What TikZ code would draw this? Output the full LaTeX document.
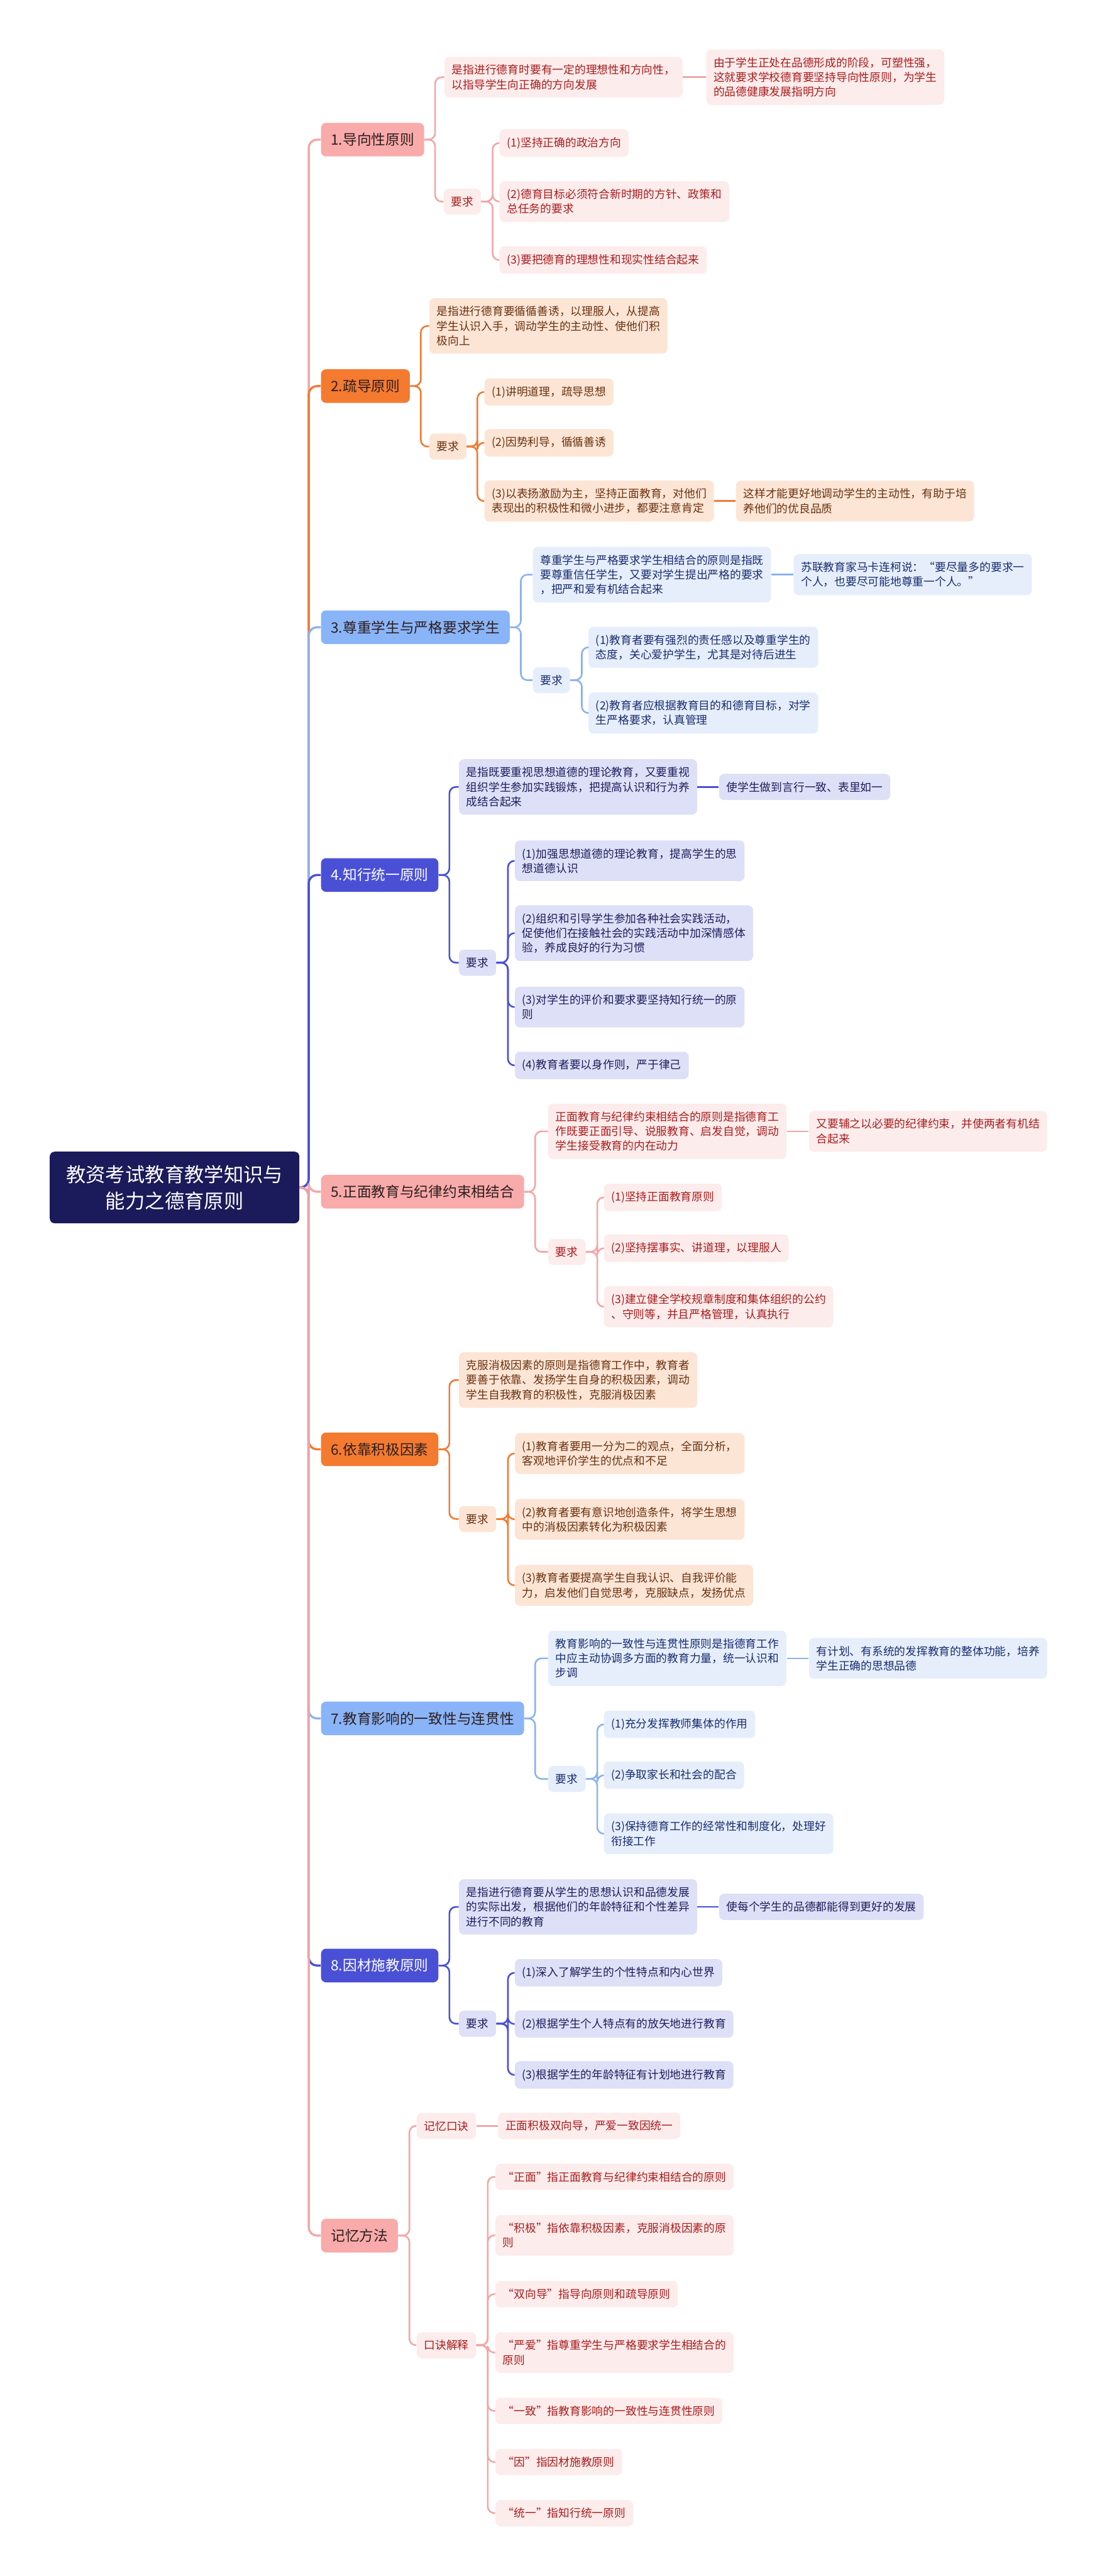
\documentclass[tikz,border=0pt]{standalone}
\usepackage{fontspec}
\setmainfont{Noto Sans CJK SC}
\usepackage{tikz}
\usetikzlibrary{positioning}
\definecolor{rootnavy}{RGB}{27,26,90}
\definecolor{topicInk}{RGB}{45,30,30}
\definecolor{pkFill}{RGB}{249,170,170}
\definecolor{pkLeaf}{RGB}{253,236,236}
\definecolor{pkLine}{RGB}{244,166,166}
\definecolor{pkText}{RGB}{168,28,28}
\definecolor{orFill}{RGB}{244,122,48}
\definecolor{orLeaf}{RGB}{253,229,214}
\definecolor{orLine}{RGB}{240,122,50}
\definecolor{orText}{RGB}{105,50,15}
\definecolor{lbFill}{RGB}{138,180,248}
\definecolor{lbLeaf}{RGB}{230,238,252}
\definecolor{lbLine}{RGB}{140,178,240}
\definecolor{lbText}{RGB}{25,45,110}
\definecolor{inFill}{RGB}{74,80,214}
\definecolor{inLeaf}{RGB}{222,224,248}
\definecolor{inLine}{RGB}{74,80,214}
\definecolor{inText}{RGB}{30,30,90}

\begin{document}
\begin{tikzpicture}[x=1pt,y=-1pt,
  rootbox/.style={fill=rootnavy,text=white,rounded corners=3pt,align=center,
                  font=\fontsize{12}{16}\selectfont,inner xsep=10pt,inner ysep=8.2pt},
  topicbox/.style={rounded corners=3pt,anchor=west,font=\fontsize{8.7}{11}\selectfont,
                   inner xsep=6pt,inner ysep=6.2pt},
  leafbox/.style={rounded corners=3pt,anchor=west,align=left,
                  font=\fontsize{6.8}{8.9}\selectfont,inner xsep=4.5pt,inner ysep=4.8pt},
  pkTopic/.style={topicbox,fill=pkFill,text=topicInk},
  orTopic/.style={topicbox,fill=orFill,text=topicInk},
  lbTopic/.style={topicbox,fill=lbFill,text=topicInk},
  inTopic/.style={topicbox,fill=inFill,text=white},
  pkNode/.style={leafbox,fill=pkLeaf,text=pkText},
  orNode/.style={leafbox,fill=orLeaf,text=orText},
  lbNode/.style={leafbox,fill=lbLeaf,text=lbText},
  inNode/.style={leafbox,fill=inLeaf,text=inText},
  link/.style={rounded corners=4pt,line width=1pt},
  spine/.style={rounded corners=5pt,line width=1.3pt}
]
  \useasboundingbox (0,0) rectangle (671,1568);

  \node[rootbox] (root) at (106.3,722.8) {教资考试教育教学知识与\\能力之德育原则};

  \node[pkTopic] (t1) at (195.3,85) {1.导向性原则};
  \node[orTopic] (t2) at (195.3,235) {2.疏导原则};
  \node[lbTopic] (t3) at (195.3,381.8) {3.尊重学生与严格要求学生};
  \node[inTopic] (t4) at (195.3,532.6) {4.知行统一原则};
  \node[pkTopic] (t5) at (195.3,725.4) {5.正面教育与纪律约束相结合};
  \node[orTopic] (t6) at (195.3,882.2) {6.依靠积极因素};
  \node[lbTopic] (t7) at (195.3,1046) {7.教育影响的一致性与连贯性};
  \node[inTopic] (t8) at (195.3,1196.4) {8.因材施教原则};
  \node[pkTopic] (tm) at (195.3,1360.8) {记忆方法};

  \draw[spine,pkLine] (root.east) -- ++(5.5,0) |- (t1.west);
  \draw[spine,orLine] (root.east) -- ++(5.5,0) |- (t2.west);
  \draw[spine,lbLine] (root.east) -- ++(5.5,0) |- (t3.west);
  \draw[spine,inLine] (root.east) -- ++(5.5,0) |- (t4.west);
  \draw[spine,pkLine] (root.east) -- ++(5.5,0) |- (t5.west);
  \draw[spine,orLine] (root.east) -- ++(5.5,0) |- (t6.west);
  \draw[spine,lbLine] (root.east) -- ++(5.5,0) |- (t7.west);
  \draw[spine,inLine] (root.east) -- ++(5.5,0) |- (t8.west);
  \draw[spine,pkLine] (root.east) -- ++(5.5,0) |- (tm.west);

  % 1 导向性原则
  \node[pkNode] (d1) at (270.5,47) {是指进行德育时要有一定的理想性和方向性，\\以指导学生向正确的方向发展};
  \node[pkNode,right=13.9pt of d1] (c1) {由于学生正处在品德形成的阶段，可塑性强，\\这就要求学校德育要坚持导向性原则，为学生\\的品德健康发展指明方向};
  \node[pkNode] (r1) at (270,122.7) {要求};
  \node[pkNode] (r1a) at (304,87) {(1)坚持正确的政治方向};
  \node[pkNode] (r1b) at (304,122.7) {(2)德育目标必须符合新时期的方针、政策和\\总任务的要求};
  \node[pkNode] (r1c) at (304,158.3) {(3)要把德育的理想性和现实性结合起来};
  \draw[link,pkLine] (t1.east) -- ++(6.5,0) |- (d1.west);
  \draw[link,pkLine] (t1.east) -- ++(6.5,0) |- (r1.west);
  \draw[link,pkLine] (d1) -- (c1);
  \draw[link,pkLine] (r1.east) -- ++(7,0) |- (r1a.west);
  \draw[link,pkLine] (r1.east) -- ++(7,0) |- (r1b.west);
  \draw[link,pkLine] (r1.east) -- ++(7,0) |- (r1c.west);

  % 2 疏导原则
  \node[orNode] (d2) at (261.2,198.4) {是指进行德育要循循善诱，以理服人，从提高\\学生认识入手，调动学生的主动性、使他们积\\极向上};
  \node[orNode] (r2) at (261.2,271.8) {要求};
  \node[orNode] (r2a) at (294.8,238.6) {(1)讲明道理，疏导思想};
  \node[orNode] (r2b) at (294.8,269.5) {(2)因势利导，循循善诱};
  \node[orNode] (r2c) at (294.8,305) {(3)以表扬激励为主，坚持正面教育，对他们\\表现出的积极性和微小进步，都要注意肯定};
  \node[orNode,right=13pt of r2c] (c2) {这样才能更好地调动学生的主动性，有助于培\\养他们的优良品质};
  \draw[link,orLine] (t2.east) -- ++(6.5,0) |- (d2.west);
  \draw[link,orLine] (t2.east) -- ++(6.5,0) |- (r2.west);
  \draw[link,orLine] (r2.east) -- ++(6.5,0) |- (r2a.west);
  \draw[link,orLine] (r2.east) -- ++(6.5,0) |- (r2b.west);
  \draw[link,orLine] (r2.east) -- ++(6.5,0) |- (r2c.west);
  \draw[link,orLine] (r2c) -- (c2);

  % 3 尊重学生与严格要求学生
  \node[lbNode] (d3) at (324.3,349.8) {尊重学生与严格要求学生相结合的原则是指既\\要尊重信任学生，又要对学生提出严格的要求\\，把严和爱有机结合起来};
  \node[lbNode,right=13.4pt of d3] (c3) {苏联教育家马卡连柯说：“要尽量多的要求一\\个人，也要尽可能地尊重一个人。”};
  \node[lbNode] (r3) at (324.3,414) {要求};
  \node[lbNode] (r3a) at (358.2,394) {(1)教育者要有强烈的责任感以及尊重学生的\\态度，关心爱护学生，尤其是对待后进生};
  \node[lbNode] (r3b) at (358.2,434) {(2)教育者应根据教育目的和德育目标，对学\\生严格要求，认真管理};
  \draw[link,lbLine] (t3.east) -- ++(6.5,0) |- (d3.west);
  \draw[link,lbLine] (t3.east) -- ++(6.5,0) |- (r3.west);
  \draw[link,lbLine] (d3) -- (c3);
  \draw[link,lbLine] (r3.east) -- ++(7,0) |- (r3a.west);
  \draw[link,lbLine] (r3.east) -- ++(7,0) |- (r3b.west);

  % 4 知行统一原则
  \node[inNode] (d4) at (279.3,479) {是指既要重视思想道德的理论教育，又要重视\\组织学生参加实践锻炼，把提高认识和行为养\\成结合起来};
  \node[inNode,right=13pt of d4] (c4) {使学生做到言行一致、表里如一};
  \node[inNode] (r4) at (279.3,586) {要求};
  \node[inNode] (r4a) at (313.4,524) {(1)加强思想道德的理论教育，提高学生的思\\想道德认识};
  \node[inNode] (r4b) at (313.4,568) {(2)组织和引导学生参加各种社会实践活动，\\促使他们在接触社会的实践活动中加深情感体\\验，养成良好的行为习惯};
  \node[inNode] (r4c) at (313.4,613) {(3)对学生的评价和要求要坚持知行统一的原\\则};
  \node[inNode] (r4d) at (313.4,648.5) {(4)教育者要以身作则，严于律己};
  \draw[link,inLine] (t4.east) -- ++(6.5,0) |- (d4.west);
  \draw[link,inLine] (t4.east) -- ++(6.5,0) |- (r4.west);
  \draw[link,inLine] (d4) -- (c4);
  \draw[link,inLine] (r4.east) -- ++(7,0) |- (r4a.west);
  \draw[link,inLine] (r4.east) -- ++(7,0) |- (r4b.west);
  \draw[link,inLine] (r4.east) -- ++(7,0) |- (r4c.west);
  \draw[link,inLine] (r4.east) -- ++(7,0) |- (r4d.west);

  % 5 正面教育与纪律约束相结合
  \node[pkNode] (d5) at (333.7,688.6) {正面教育与纪律约束相结合的原则是指德育工\\作既要正面引导、说服教育、启发自觉，调动\\学生接受教育的内在动力};
  \node[pkNode,right=13.3pt of d5] (c5) {又要辅之以必要的纪律约束，并使两者有机结\\合起来};
  \node[pkNode] (r5) at (333.7,762) {要求};
  \node[pkNode] (r5a) at (367.5,728.8) {(1)坚持正面教育原则};
  \node[pkNode] (r5b) at (367.5,759.8) {(2)坚持摆事实、讲道理，以理服人};
  \node[pkNode] (r5c) at (367.5,795.4) {(3)建立健全学校规章制度和集体组织的公约\\、守则等，并且严格管理，认真执行};
  \draw[link,pkLine] (t5.east) -- ++(6.5,0) |- (d5.west);
  \draw[link,pkLine] (t5.east) -- ++(6.5,0) |- (r5.west);
  \draw[link,pkLine] (d5) -- (c5);
  \draw[link,pkLine] (r5.east) -- ++(7,0) |- (r5a.west);
  \draw[link,pkLine] (r5.east) -- ++(7,0) |- (r5b.west);
  \draw[link,pkLine] (r5.east) -- ++(7,0) |- (r5c.west);

  % 6 依靠积极因素
  \node[orNode] (d6) at (279.3,840) {克服消极因素的原则是指德育工作中，教育者\\要善于依靠、发扬学生自身的积极因素，调动\\学生自我教育的积极性，克服消极因素};
  \node[orNode] (r6) at (279.3,924.6) {要求};
  \node[orNode] (r6a) at (313.4,884.7) {(1)教育者要用一分为二的观点，全面分析，\\客观地评价学生的优点和不足};
  \node[orNode] (r6b) at (313.4,924.8) {(2)教育者要有意识地创造条件，将学生思想\\中的消极因素转化为积极因素};
  \node[orNode] (r6c) at (313.4,965) {(3)教育者要提高学生自我认识、自我评价能\\力，启发他们自觉思考，克服缺点，发扬优点};
  \draw[link,orLine] (t6.east) -- ++(6.5,0) |- (d6.west);
  \draw[link,orLine] (t6.east) -- ++(6.5,0) |- (r6.west);
  \draw[link,orLine] (r6.east) -- ++(7,0) |- (r6a.west);
  \draw[link,orLine] (r6.east) -- ++(7,0) |- (r6b.west);
  \draw[link,orLine] (r6.east) -- ++(7,0) |- (r6c.west);

  % 7 教育影响的一致性与连贯性
  \node[lbNode] (d7) at (333.7,1009.4) {教育影响的一致性与连贯性原则是指德育工作\\中应主动协调多方面的教育力量，统一认识和\\步调};
  \node[lbNode,right=13.3pt of d7] (c7) {有计划、有系统的发挥教育的整体功能，培养\\学生正确的思想品德};
  \node[lbNode] (r7) at (333.7,1082.8) {要求};
  \node[lbNode] (r7a) at (367.5,1049.6) {(1)充分发挥教师集体的作用};
  \node[lbNode] (r7b) at (367.5,1080.6) {(2)争取家长和社会的配合};
  \node[lbNode] (r7c) at (367.5,1116.2) {(3)保持德育工作的经常性和制度化，处理好\\衔接工作};
  \draw[link,lbLine] (t7.east) -- ++(6.5,0) |- (d7.west);
  \draw[link,lbLine] (t7.east) -- ++(6.5,0) |- (r7.west);
  \draw[link,lbLine] (d7) -- (c7);
  \draw[link,lbLine] (r7.east) -- ++(7,0) |- (r7a.west);
  \draw[link,lbLine] (r7.east) -- ++(7,0) |- (r7b.west);
  \draw[link,lbLine] (r7.east) -- ++(7,0) |- (r7c.west);

  % 8 因材施教原则
  \node[inNode] (d8) at (279.3,1160.7) {是指进行德育要从学生的思想认识和品德发展\\的实际出发，根据他们的年龄特征和个性差异\\进行不同的教育};
  \node[inNode,right=13pt of d8] (c8) {使每个学生的品德都能得到更好的发展};
  \node[inNode] (r8) at (279.3,1231.8) {要求};
  \node[inNode] (r8a) at (313.4,1200.8) {(1)深入了解学生的个性特点和内心世界};
  \node[inNode] (r8b) at (313.4,1232) {(2)根据学生个人特点有的放矢地进行教育};
  \node[inNode] (r8c) at (313.4,1263) {(3)根据学生的年龄特征有计划地进行教育};
  \draw[link,inLine] (t8.east) -- ++(6.5,0) |- (d8.west);
  \draw[link,inLine] (t8.east) -- ++(6.5,0) |- (r8.west);
  \draw[link,inLine] (d8) -- (c8);
  \draw[link,inLine] (r8.east) -- ++(7,0) |- (r8a.west);
  \draw[link,inLine] (r8.east) -- ++(7,0) |- (r8b.west);
  \draw[link,inLine] (r8.east) -- ++(7,0) |- (r8c.west);

  % 记忆方法
  \node[pkNode] (m1) at (253.5,1294) {记忆口诀};
  \node[pkNode,right=13pt of m1] (m1x) {正面积极双向导，严爱一致因统一};
  \node[pkNode] (m2) at (253.5,1427.5) {口诀解释};
  \node[pkNode] (m2a) at (301.5,1325) {“正面”指正面教育与纪律约束相结合的原则};
  \node[pkNode] (m2b) at (301.5,1360.6) {“积极”指依靠积极因素，克服消极因素的原\\则};
  \node[pkNode] (m2c) at (301.5,1396.4) {“双向导”指导向原则和疏导原则};
  \node[pkNode] (m2d) at (301.5,1432) {“严爱”指尊重学生与严格要求学生相结合的\\原则};
  \node[pkNode] (m2e) at (301.5,1467.5) {“一致”指教育影响的一致性与连贯性原则};
  \node[pkNode] (m2f) at (301.5,1498.6) {“因”指因材施教原则};
  \node[pkNode] (m2g) at (301.5,1529.7) {“统一”指知行统一原则};
  \draw[link,pkLine] (tm.east) -- ++(6.8,0) |- (m1.west);
  \draw[link,pkLine] (tm.east) -- ++(6.8,0) |- (m2.west);
  \draw[link,pkLine] (m1) -- (m1x);
  \draw[link,pkLine] (m2.east) -- ++(6.9,0) |- (m2a.west);
  \draw[link,pkLine] (m2.east) -- ++(6.9,0) |- (m2b.west);
  \draw[link,pkLine] (m2.east) -- ++(6.9,0) |- (m2c.west);
  \draw[link,pkLine] (m2.east) -- ++(6.9,0) |- (m2d.west);
  \draw[link,pkLine] (m2.east) -- ++(6.9,0) |- (m2e.west);
  \draw[link,pkLine] (m2.east) -- ++(6.9,0) |- (m2f.west);
  \draw[link,pkLine] (m2.east) -- ++(6.9,0) |- (m2g.west);
\end{tikzpicture}
\end{document}
